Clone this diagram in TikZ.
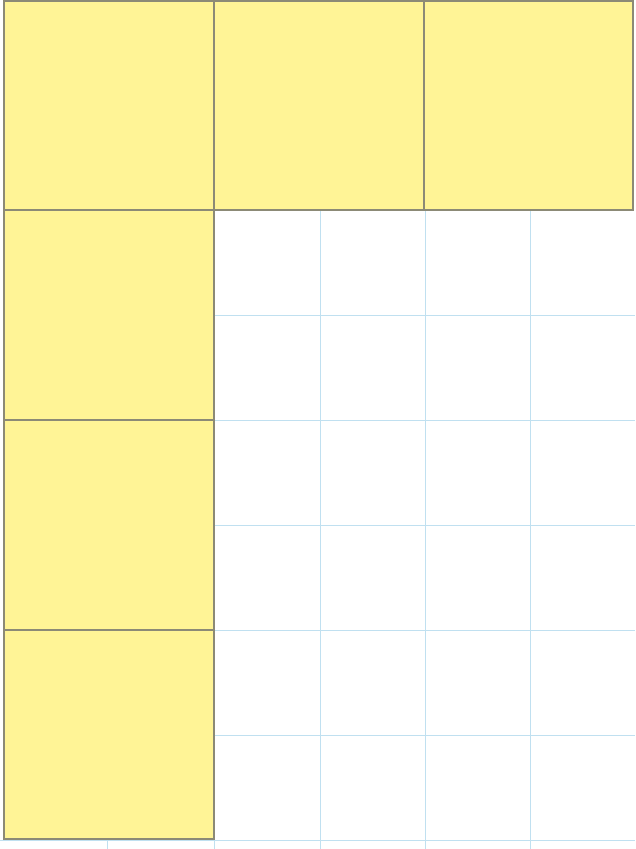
\documentclass[tikz,border=0pt]{standalone}
\usepackage{tikz}
\definecolor{tileyellow}{RGB}{255,244,150}
\definecolor{tileedge}{RGB}{140,138,118}
\definecolor{gridblue}{RGB}{192,224,240}
\tikzset{
  tile/.style={fill=tileyellow, draw=tileedge, line width=1.8pt},
  gridline/.style={draw=gridblue, line width=1pt}
}
\begin{document}
\begin{tikzpicture}[x=1pt,y=-1pt]
\useasboundingbox (0,0) rectangle (635,849);
\fill[white] (0,0) rectangle (635,849);
% background grid
\foreach \x in {320,425,530} \draw[gridline] (\x,210) -- (\x,849);
\draw[gridline] (107,835) -- (107,849);
\draw[gridline] (214,835) -- (214,849);
\foreach \y in {315,420,525,630,735} \draw[gridline] (214,\y) -- (635,\y);
\draw[gridline] (0,840) -- (635,840);
% yellow tiles, top row
\draw[tile] (4,1) rectangle (214,210);
\draw[tile] (214,1) rectangle (424,210);
\draw[tile] (424,1) rectangle (633,210);
% yellow tiles, left column
\draw[tile] (4,210) rectangle (214,420);
\draw[tile] (4,420) rectangle (214,630);
\draw[tile] (4,630) rectangle (214,839);
\end{tikzpicture}
\end{document}
